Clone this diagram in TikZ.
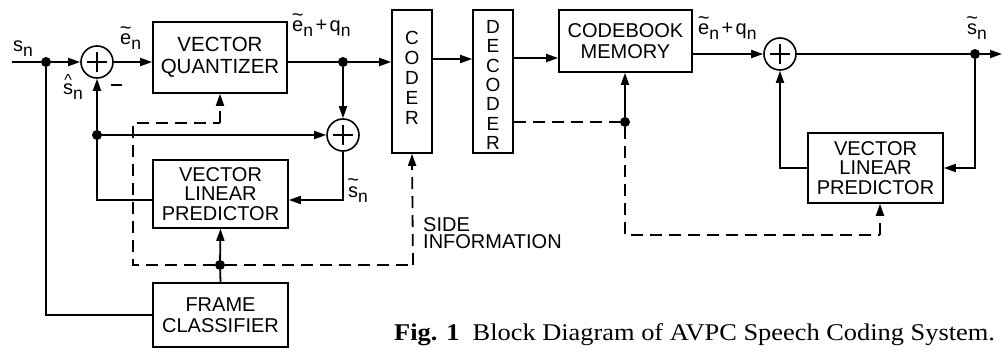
\documentclass[tikz,border=0pt]{standalone}
\usepackage{fontspec}
\usepackage{graphicx}
\setmainfont{Liberation Sans}
\newfontfamily\capfont{Liberation Serif}
\usetikzlibrary{arrows.meta}
\newcommand\lbl{\fontsize{20}{21}\selectfont}
\newcommand\sbn{\raisebox{-5pt}{\fontsize{17.5}{17.5}\selectfont n}}
\newcommand\tld[1]{\ooalign{#1\cr\hidewidth\raisebox{10.5pt}{\fontsize{20}{20}\selectfont\char"7E}\hidewidth\cr}}
\newcommand\hatc[1]{\ooalign{#1\cr\hidewidth\raisebox{9pt}{\fontsize{16}{16}\selectfont\char"5E}\hidewidth\cr}}
\newcommand\gp{\hspace{2.5pt}}
\begin{document}
\begin{tikzpicture}[x=1pt,y=-1pt,
  blk/.style={draw, line width=1.6pt, inner sep=0pt, align=center, font=\lbl},
  sum/.style={draw, circle, line width=1.6pt, minimum size=32pt, inner sep=0pt},
  dot/.style={circle, fill, minimum size=10pt, inner sep=0pt},
  con/.style={line width=1.8pt},
  arr/.style={con, -{Triangle[length=12pt,width=8pt]}},
  dsh/.style={con, dash pattern=on 12pt off 7pt},
  lab/.style={font=\lbl, inner sep=0pt, anchor=base west}]
\useasboundingbox (0,0) rectangle (1003,350);
% blocks
\node[blk, minimum width=134pt, minimum height=71pt, font=\fontsize{20.5}{22}\selectfont] (VQ) at (220,57.5) {VECTOR\\QUANTIZER};
\node[blk, minimum width=135pt, minimum height=68pt, font=\fontsize{20}{19.5}\selectfont] (VLP1) at (220.5,194) {VECTOR\\LINEAR\\PREDICTOR};
\node[blk, minimum width=135pt, minimum height=64pt, font=\fontsize{20}{21}\selectfont] (FC) at (220.5,315) {FRAME\\CLASSIFIER};
\node[blk, minimum width=40pt, minimum height=143pt] (CO) at (412,81.5) {};
\node[inner sep=0pt, align=center, font=\fontsize{19}{20}\selectfont] at (412,78) {C\\O\\D\\E\\R};
\node[blk, minimum width=40pt, minimum height=143pt] (DE) at (493,81.5) {};
\node[inner sep=0pt, align=center, font=\fontsize{19}{19.4}\selectfont] at (493,85) {D\\E\\C\\O\\D\\E\\R};
\node[blk, minimum width=133pt, minimum height=62pt, font=\fontsize{20}{21}\selectfont] (CB) at (625.5,41) {CODEBOOK\\MEMORY};
\node[blk, minimum width=135pt, minimum height=70pt, font=\fontsize{20}{19.5}\selectfont] (VLP2) at (875.5,168) {VECTOR\\LINEAR\\PREDICTOR};
% adders
\node[sum] (A1) at (97,62) {};
\node[sum] (A2) at (343,135) {};
\node[sum] (A3) at (780,54) {};
\foreach \a in {A1,A2,A3}{
  \draw[line width=1.6pt] ([xshift=-10pt]\a.center) -- ([xshift=10pt]\a.center);
  \draw[line width=1.6pt] ([yshift=-10pt]\a.center) -- ([yshift=10pt]\a.center);}
% junctions
\coordinate (in) at (12,62);
\node[dot] (J1) at (46,62) {};
\node[dot] (J2) at (343,62) {};
\node[dot] (J3) at (97,135) {};
\node[dot] (J4) at (220,265) {};
\node[dot] (J5) at (975,54) {};
\node[dot] (J6) at (625,122) {};
\coordinate (out) at (1002,54);
\coordinate (m1) at (0,59);
\coordinate (m2) at (0,58);
\coordinate (fb1) at (0,200);
\coordinate (d1) at (133,265);
\coordinate (d2) at (133,123);
\coordinate (d3) at (220,123);
\coordinate (d4) at (413,265);
\coordinate (d5) at (625,235);
\coordinate (d6) at (880,235);
% main left path
\draw[con] (in) -- (J1);
\draw[arr] (J1) -- (A1.west);
\draw[arr] (A1.east) -- (VQ.west |- A1);
\draw[con] (VQ.east |- J2) -- (J2);
\draw[arr] (J2) -- (CO.west |- J2);
\draw[arr] (J2) -- (A2.north);
\draw[arr] (VLP1.west |- fb1) -| (A1.south);
\draw[arr] (J3) -- (A2.west);
\draw[arr] (A2.south) |- (VLP1.east |- fb1);
\draw[con] (J1) |- (FC.west);
\draw[con] (FC.north) -- (J4);
\draw[arr] (J4) -- (VLP1.south);
% side information dashed
\draw[dsh] (J4) -- (d1) -- (d2) -- (d3);
\draw[dsh, -{Triangle[length=12pt,width=8pt]}] (d3) -- (VQ.south |- d3) -- (VQ.south);
\draw[dsh] (J4) -- (d4);
\draw[dsh, -{Triangle[length=12pt,width=8pt]}] (d4) -- (CO.south);
% coder/decoder
\draw[arr] (CO.east |- m1) -- (DE.west |- m1);
\draw[arr] (DE.east |- m2) -- (CB.west |- m2);
\draw[dsh] (DE.east |- J6) -- (J6);
\draw[arr] (J6) -- (J6 |- CB.south);
\draw[dsh] (J6) -- (d5) -- (d6);
\draw[dsh, -{Triangle[length=12pt,width=8pt]}] (d6) -- (d6 |- VLP2.south);
% right side
\draw[arr] (CB.east |- A3) -- (A3.west);
\draw[con] (A3.east) -- (J5);
\draw[arr] (J5) -- (out);
\draw[arr] (J5) |- (VLP2.east);
\draw[arr] (VLP2.west) -| (A3.south);
% labels
\node[lab] at (13,52) {s\sbn};
\node[lab] at (120,45) {\tld{e}\sbn};
\node[lab] at (63,95) {\hatc{s}\sbn};
\node[inner sep=0pt] at (116,85) {\rule{11pt}{2pt}};
\node[lab] at (292,32) {\tld{e}\sbn\gp+\gp q\sbn};
\node[lab] at (348,197) {\tld{s}\sbn};
\node[inner sep=0pt, align=left, anchor=west, font=\fontsize{20}{17.5}\selectfont] at (423,233) {SIDE\\INFORMATION};
\node[lab] at (698,35) {\tld{e}\sbn\gp+\gp q\sbn};
\node[lab] at (967,35) {\tld{s}\sbn};
\node[anchor=base west, inner sep=0pt, font=\capfont\fontsize{24}{24}\selectfont] (cap) at (394,340) {\scalebox{1.1}[1]{\textbf{Fig. 1}\ \ Block Diagram of AVPC Speech Coding System.}};
\end{tikzpicture}
\end{document}
